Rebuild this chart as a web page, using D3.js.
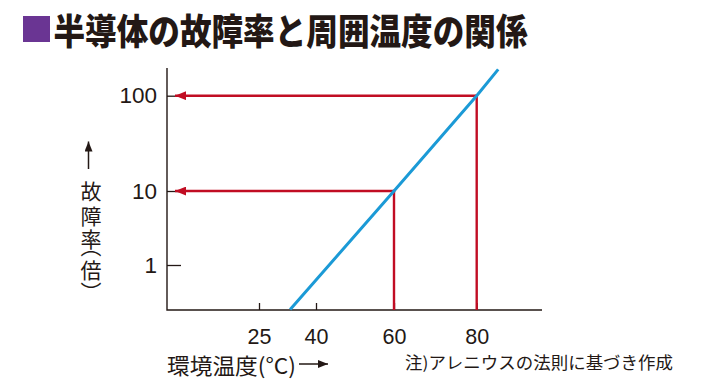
<!DOCTYPE html>
<html>
<head>
<meta charset="utf-8">
<script src="https://cdn.jsdelivr.net/npm/d3@7"></script>
<style>
html,body{margin:0;padding:0;background:#fff;}
svg{display:block;}
</style>
</head>
<body>
<svg id="chart" width="708" height="388"></svg>
<script>
// ---- data ----
const titleText = "半導体の故障率と周囲温度の関係";
const xTickValues = [25, 40, 60, 80];
const yTickValues = [1, 10, 100];
const yTickLabels = ["1", "10", "100"];
// Arrhenius line (temperature °C, failure rate multiple)
const lineTemps = [33.2, 60, 80, 85.2];
const lineRates = [0.25, 10, 100, 189];
// highlighted reference points
const markTemps = [60, 80];
const markRates = [10, 100];
const xTitle = "環境温度(°C)";
const yTitle = "故障率︵倍︶";
const noteText = "注)アレニウスの法則に基づき作成";

// ---- layout ----
const svg = d3.select("#chart");
const frame = {left: 167, right: 542, top: 68, bottom: 310};
const red = "#c10d23", blue = "#1b9ad6", ink = "#231815";
const cjk = "'Noto Sans CJK JP', 'Noto Sans CJK SC', sans-serif";
const num = "'Liberation Sans', Arial, sans-serif";

// schematic (non-uniform) scales, piecewise between tick values
const x = d3.scaleLinear().domain(xTickValues).range([259, 316, 394, 476.7]);
const y = d3.scaleLog().domain(yTickValues).range([265, 191, 95.7]);

// defs: arrowheads (tip at the line end)
const defs = svg.append("defs");
function head(id, color, w, h) {
  defs.append("marker").attr("id", id).attr("viewBox", "0 0 10 8")
    .attr("refX", 10).attr("refY", 4).attr("markerWidth", w).attr("markerHeight", h)
    .attr("markerUnits", "userSpaceOnUse").attr("orient", "auto")
    .append("path").attr("d", "M0,0 L10,4 L0,8 Z").attr("fill", color);
}
head("redHead", red, 11, 9);
head("blackHead", ink, 11, 8);

// title
svg.append("rect").attr("x", 23).attr("y", 16).attr("width", 27).attr("height", 26).attr("fill", "#6a3593");
svg.append("text").attr("x", 53.5).attr("y", 29)
  .attr("dominant-baseline", "central")
  .attr("font-family", cjk).attr("font-weight", 900).attr("font-size", 36)
  .attr("textLength", 474).attr("lengthAdjust", "spacingAndGlyphs")
  .attr("fill", ink).text(titleText);

// axes
const gx = svg.append("g").attr("transform", `translate(0,${frame.bottom})`)
  .call(d3.axisBottom(x).tickValues(xTickValues).tickSize(-7).tickPadding(19).tickFormat(d3.format("d")));
gx.select(".domain").remove();
gx.selectAll("line").attr("stroke", ink).attr("stroke-width", 1.3);
gx.selectAll("text").attr("font-family", num).attr("font-size", 21.5).attr("fill", ink);

const gy = svg.append("g").attr("transform", `translate(${frame.left},0)`)
  .call(d3.axisLeft(y).tickValues(yTickValues).tickSize(-14).tickPadding(10)
    .tickFormat((d, i) => yTickLabels[i]));
gy.select(".domain").remove();
gy.selectAll("line").attr("stroke", ink).attr("stroke-width", 1.3);
gy.selectAll("text").attr("font-family", num).attr("font-size", 22.5).attr("fill", ink);

// frame lines (L shape)
svg.append("path")
  .attr("d", `M${frame.left},${frame.top} V${frame.bottom} H${frame.right}`)
  .attr("fill", "none").attr("stroke", ink).attr("stroke-width", 1.4);

// red guide lines
const marks = markTemps.map((t, i) => ({t, r: markRates[i]}));
svg.append("g").selectAll("line").data(marks).join("line")
  .attr("x1", d => x(d.t)).attr("x2", d => x(d.t))
  .attr("y1", d => y(d.r) - 1.2).attr("y2", frame.bottom)
  .attr("stroke", red).attr("stroke-width", 2.4);
svg.append("g").selectAll("line").data(marks).join("line")
  .attr("x1", d => x(d.t) + 1.2).attr("x2", frame.left + 8)
  .attr("y1", d => y(d.r)).attr("y2", d => y(d.r))
  .attr("stroke", red).attr("stroke-width", 2.4)
  .attr("marker-end", "url(#redHead)");

// blue line
const pts = lineTemps.map((t, i) => [t, lineRates[i]]);
svg.append("path").datum(pts)
  .attr("d", d3.line().x(d => x(d[0])).y(d => y(d[1])))
  .attr("fill", "none").attr("stroke", blue).attr("stroke-width", 3);

// x title
svg.append("text").attr("x", 167).attr("y", 363.5).attr("dominant-baseline", "central")
  .attr("font-family", cjk).attr("font-size", 22).attr("fill", ink)
  .attr("textLength", 129).attr("lengthAdjust", "spacingAndGlyphs").text(xTitle);
svg.append("line").attr("x1", 299).attr("x2", 328).attr("y1", 364).attr("y2", 364)
  .attr("stroke", ink).attr("stroke-width", 1.5).attr("marker-end", "url(#blackHead)");

// y title (stacked vertically in one text element) with up arrow
svg.append("line").attr("x1", 88.5).attr("x2", 88.5).attr("y1", 169).attr("y2", 141.5)
  .attr("stroke", ink).attr("stroke-width", 1.5).attr("marker-end", "url(#blackHead)");
// glyph centres along the column (vertical paren forms sit off-centre in their em box)
const ys = [189.5, 214.5, 238, 244.5, 268.5, 290.5];
svg.append("text")
  .attr("x", ys.map(() => 91).join(" "))
  .attr("y", ys.join(" "))
  .attr("text-anchor", "middle").attr("dominant-baseline", "central")
  .attr("font-family", cjk).attr("font-size", 21).attr("fill", ink).text(yTitle);

// note
svg.append("text").attr("x", 405).attr("y", 362).attr("dominant-baseline", "central")
  .attr("font-family", cjk).attr("font-size", 16.5).attr("fill", ink)
  .attr("textLength", 268).attr("lengthAdjust", "spacingAndGlyphs").text(noteText);
</script>
</body>
</html>
